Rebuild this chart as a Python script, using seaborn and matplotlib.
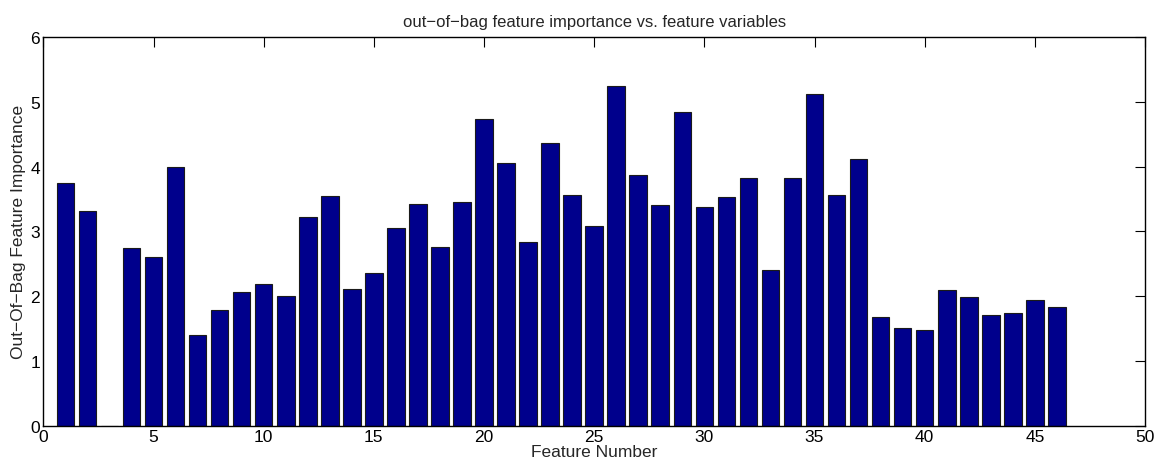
import numpy as np
import pandas as pd
import matplotlib
matplotlib.use("Agg")
import matplotlib.pyplot as plt
import seaborn as sns

features = list(range(1, 47))
importance = [
    3.75, 3.32, 0.00, 2.74, 2.60, 3.99, 1.40, 1.78, 2.06, 2.19,
    2.00, 3.22, 3.54, 2.11, 2.36, 3.05, 3.43, 2.76, 3.46, 4.73,
    4.05, 2.83, 4.36, 3.56, 3.08, 5.24, 3.87, 3.41, 4.84, 3.38,
    3.53, 3.82, 2.41, 3.82, 5.12, 3.56, 4.11, 1.68, 1.51, 1.47,
    2.09, 1.99, 1.71, 1.74, 1.94, 1.83,
]
x_ticks = list(range(0, 51, 5))
y_ticks = list(range(0, 7))

sns.set_theme(style="white")
plt.rcParams["font.family"] = ["Liberation Sans", "DejaVu Sans"]

df = pd.DataFrame({"feature": features, "importance": importance})

fig = plt.figure(figsize=(11.56, 4.64), dpi=100)
ax = fig.add_axes([0.0375, 0.0804, 0.953, 0.8376])

sns.barplot(data=df, x="feature", y="importance", native_scale=True,
            width=0.8, color="#00008C", saturation=1,
            edgecolor="#1a1a1a", linewidth=0.8, ax=ax)

ax.set_xlim(0, 50)
ax.set_ylim(0, 6)
ax.set_xticks(x_ticks)
ax.set_yticks(y_ticks)
ax.tick_params(direction="in", length=7, width=0.8, colors="black",
               labelsize=12.5, top=True, right=True, pad=2.5,
               labeltop=False, labelright=False)
for s in ax.spines.values():
    s.set_visible(True)
    s.set_color("black")
    s.set_linewidth(1.0)

ax.set_title("out\u2212of\u2212bag feature importance vs. feature variables",
             fontsize=12, pad=8)
ax.set_xlabel("Feature Number", fontsize=12.5, labelpad=0)
ax.set_ylabel("Out\u2212Of\u2212Bag Feature Importance", fontsize=12.5, labelpad=3)

fig.savefig("out.png", dpi=100)
